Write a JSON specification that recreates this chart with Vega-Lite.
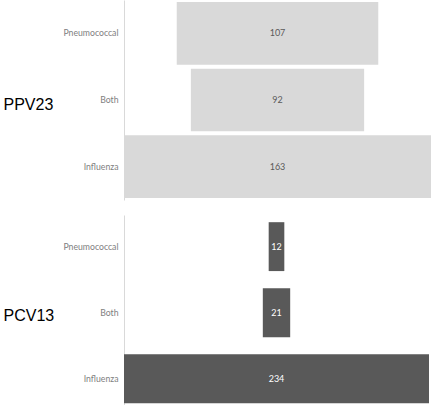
{
  "$schema": "https://vega.github.io/schema/vega-lite/v6.json",
  "padding": {"left": 3, "top": 0, "right": 0, "bottom": 0},
  "spacing": 15,
  "config": {
    "view": {"stroke": null},
    "font": "Lato",
    "axis": {"grid": false}
  },
  "data": {
    "values": [
      {"vaccine": "PPV23", "category": "Pneumococcal", "n": 107},
      {"vaccine": "PPV23", "category": "Both", "n": 92},
      {"vaccine": "PPV23", "category": "Influenza", "n": 163},
      {"vaccine": "PCV13", "category": "Pneumococcal", "n": 12},
      {"vaccine": "PCV13", "category": "Both", "n": 21},
      {"vaccine": "PCV13", "category": "Influenza", "n": 234}
    ]
  },
  "vconcat": [
    {
      "width": 307,
      "height": 200,
      "transform": [{"filter": "datum.vaccine == 'PPV23'"}],
      "encoding": {
        "y": {
          "field": "category",
          "type": "nominal",
          "sort": ["Pneumococcal", "Both", "Influenza"],
          "scale": {"paddingInner": 0.06, "paddingOuter": 0.03},
          "axis": {
            "title": "PPV23",
            "titleAngle": 0,
            "titleAlign": "left",
            "titleBaseline": "middle",
            "titleX": -121,
            "titleY": 104,
            "titleFont": "Liberation Sans",
            "titleFontSize": 16,
            "titleFontWeight": "normal",
            "titleColor": "#000000",
            "ticks": false,
            "labelPadding": 6,
            "labelFontSize": 8.7,
            "labelColor": "#808080",
            "domainColor": "#d9d9d9"
          }
        }
      },
      "layer": [
        {
          "mark": {"type": "bar", "color": "#d9d9d9"},
          "encoding": {
            "x": {
              "field": "n",
              "type": "quantitative",
              "stack": "center",
              "scale": {"domain": [0, 163], "nice": false},
              "axis": null
            }
          }
        },
        {
          "mark": {"type": "text", "fontSize": 9, "color": "#595959"},
          "encoding": {
            "x": {"datum": 81.5, "type": "quantitative"},
            "text": {"field": "n", "type": "quantitative"}
          }
        }
      ]
    },
    {
      "width": 305,
      "height": 190,
      "transform": [{"filter": "datum.vaccine == 'PCV13'"}],
      "encoding": {
        "y": {
          "field": "category",
          "type": "nominal",
          "sort": ["Pneumococcal", "Both", "Influenza"],
          "scale": {"paddingInner": 0.26, "paddingOuter": 0.068, "align": 0.8},
          "axis": {
            "title": "PCV13",
            "titleAngle": 0,
            "titleAlign": "left",
            "titleBaseline": "middle",
            "titleX": -121,
            "titleY": 100,
            "titleFont": "Liberation Sans",
            "titleFontSize": 16,
            "titleFontWeight": "normal",
            "titleColor": "#000000",
            "ticks": false,
            "labelPadding": 6,
            "labelFontSize": 8.7,
            "labelColor": "#808080",
            "domainColor": "#d9d9d9"
          }
        }
      },
      "layer": [
        {
          "mark": {"type": "bar", "color": "#595959"},
          "encoding": {
            "x": {
              "field": "n",
              "type": "quantitative",
              "stack": "center",
              "scale": {"domain": [0, 234], "nice": false},
              "axis": null
            }
          }
        },
        {
          "mark": {"type": "text", "fontSize": 9, "color": "#ffffff"},
          "encoding": {
            "x": {"datum": 117, "type": "quantitative"},
            "text": {"field": "n", "type": "quantitative"}
          }
        }
      ]
    }
  ]
}
